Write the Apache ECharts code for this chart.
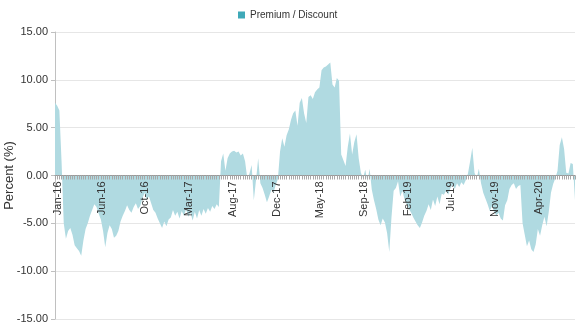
<!DOCTYPE html>
<html>
<head>
<meta charset="utf-8">
<script src="https://cdn.jsdelivr.net/npm/echarts@6/dist/echarts.min.js"></script>
<style>
html,body{margin:0;padding:0;background:#fff;}
#chart{width:585px;height:323px;}
</style>
</head>
<body>
<div id="chart"></div>
<script>
// Weekly observations, first one on 22 Jan 2016
var startDate = [2016, 0, 22];
var seriesName = 'Premium / Discount';
var values = [
  7.6, 7.3, 6.8, 1.5, -5.0, -6.6, -5.8, -5.5, -6.2, -7.3,
  -7.6, -7.9, -8.4, -6.8, -5.6, -5.0, -4.2, -3.6, -3.0, -3.3,
  -4.0, -4.6, -5.8, -7.5, -6.0, -5.2, -5.6, -6.5, -6.3, -5.8,
  -4.8, -4.2, -3.7, -3.1, -3.6, -3.9, -3.3, -2.9, -3.5, -3.2,
  -2.4, -1.8, -2.5, -2.2, -2.9, -3.6, -3.9, -4.5, -5.0, -5.5,
  -4.8, -5.3, -4.6, -4.4, -3.6, -4.2, -3.8, -4.5, -3.7, -4.2,
  -3.5, -4.3, -3.9, -4.7, -3.8, -4.5, -3.6, -4.2, -3.5, -4.0,
  -3.4, -3.8, -3.2, -3.5, -3.0, -3.3, 1.5, 2.3, 0.5, 1.8,
  2.3, 2.5, 2.6, 2.4, 2.5, 2.1, 2.3, 1.5, -0.3, 0.2,
  1.1, -2.6, -0.5, 1.8, -0.8, -1.3, -2.0, -2.8, -2.2, -1.5,
  -1.8, -1.0, -0.4, 2.5, 3.9, 3.0, 4.2, 4.8, 5.8, 6.5,
  6.8, 5.2, 7.6, 8.1, 6.5, 5.5, 8.2, 8.4, 8.0, 8.7,
  9.0, 9.2, 11.0, 11.3, 11.4, 11.6, 11.8, 9.5, 9.2, 10.2,
  9.9, 2.2, 1.6, 1.0, 3.0, 4.4, 2.2, 3.5, 4.3, 1.8,
  0.3, -0.3, 0.6, -0.6, 0.7, -1.5, -2.6, -3.5, -4.6, -5.2,
  -4.5, -4.9, -6.0, -8.0, -4.4, -1.6, -1.3, -0.6, -2.2, -1.6,
  -2.5, -3.0, -3.5, -3.9, -4.4, -4.8, -5.2, -5.5, -4.9, -4.2,
  -3.7, -3.0, -3.6, -2.5, -3.2, -2.2, -3.0, -1.9, -2.0, -1.6,
  -2.0, -1.3, -1.0, -1.4, -0.8, -1.2, -0.7, -1.0, -0.5, 0.2,
  1.5, 2.9, 0.3, -0.3, 0.7, -0.8, -1.8, -2.4, -3.0, -3.7,
  -3.2, -3.8, -4.2, -3.9, -4.5, -4.7, -3.1, -2.6, -1.4, -1.0,
  -0.8, -1.4, -1.1, -1.0, -5.0, -6.2, -7.4, -6.8, -7.7, -8.0,
  -7.2, -5.6, -6.3, -5.2, -4.3, -5.3, -3.8, -1.8, -0.9, -0.3,
  0.5, 3.2, 4.0, 2.8, 0.3, 0.2, 1.3, 1.2, -2.6
];
var yTicks = [-15, -10, -5, 0, 5, 10, 15];
var monthNames = ['Jan','Feb','Mar','Apr','May','Jun','Jul','Aug','Sep','Oct','Nov','Dec'];

var categories = values.map(function (v, i) {
  var d = new Date(startDate[0], startDate[1], startDate[2] + 7 * i);
  return monthNames[d.getMonth()] + '-' + String(d.getFullYear()).slice(2);
});

var chart = echarts.init(document.getElementById('chart'), null, {renderer: 'canvas'});
chart.setOption({
  animation: false,
  backgroundColor: '#ffffff',
  textStyle: {fontFamily: 'Liberation Sans, Arial, sans-serif'},
  legend: {
    data: [seriesName],
    left: 233,
    top: 5,
    icon: 'rect',
    itemWidth: 7,
    itemHeight: 7,
    itemGap: 10,
    textStyle: {fontSize: 10, color: '#333333', fontFamily: 'Liberation Sans, Arial, sans-serif'}
  },
  grid: {left: 55, right: 10, top: 32, bottom: 4, containLabel: false, outerBoundsMode: 'none'},
  xAxis: {
    type: 'category',
    data: categories,
    boundaryGap: false,
    offset: -143.5,
    z: 5,
    axisLine: {onZero: false, lineStyle: {color: '#999999', width: 1}},
    axisTick: {show: true, interval: 0, length: 4, lineStyle: {color: '#a8a8a8'}},
    axisLabel: {
      interval: 19,
      rotate: 90,
      margin: 6,
      fontSize: 11,
      color: '#333333',
      verticalAlign: 'top',
      lineHeight: 6,
      fontFamily: 'Liberation Sans, Arial, sans-serif'
    },
    splitLine: {show: false}
  },
  yAxis: {
    type: 'value',
    min: yTicks[0],
    max: yTicks[yTicks.length - 1],
    interval: 5,
    name: 'Percent (%)',
    nameLocation: 'middle',
    nameGap: 39,
    nameMoveOverlap: false,
    nameTextStyle: {fontSize: 13, color: '#333333', fontFamily: 'Liberation Sans, Arial, sans-serif'},
    axisLine: {show: true, onZero: false, lineStyle: {color: '#c0c0c0'}},
    axisTick: {show: true, length: 4, lineStyle: {color: '#c0c0c0'}},
    axisLabel: {
      margin: 7,
      fontSize: 11,
      color: '#333333',
      formatter: function (v) { return v.toFixed(2); },
      fontFamily: 'Liberation Sans, Arial, sans-serif'
    },
    splitLine: {show: true, lineStyle: {color: '#e6e6e6'}}
  },
  series: [{
    name: seriesName,
    type: 'line',
    data: values,
    showSymbol: false,
    symbol: 'none',
    itemStyle: {color: '#3fa9b8'},
    lineStyle: {width: 0, opacity: 0},
    areaStyle: {color: '#b0dae1', opacity: 1},
    z: 1
  }]
});
</script>
</body>
</html>
